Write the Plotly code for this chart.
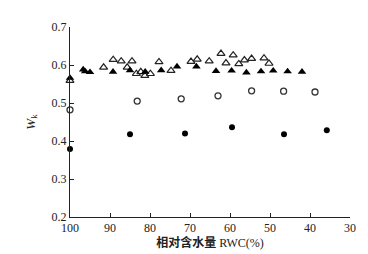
import plotly.graph_objects as go

# Open triangles
open_tri_x = [100, 91.6, 89.2, 87.2, 85.7, 84.5, 83.4, 82.3, 81.3, 79.9, 77.75, 74.75,
              69.75, 68.2, 65.2, 62.25, 61.0, 59.2, 57.8, 56.4, 54.6, 51.5, 50.25]
open_tri_y = [0.559, 0.594, 0.614, 0.610, 0.594, 0.610, 0.577, 0.582, 0.572, 0.577, 0.608, 0.585,
              0.609, 0.615, 0.610, 0.630, 0.605, 0.626, 0.603, 0.613, 0.617, 0.618, 0.604]
# Filled triangles
fill_tri_x = [100, 96.7, 96.2, 95.0, 89.25, 85.0, 81.2, 77.2, 73.25, 68.4, 63.5, 59.6,
              55.9, 52.25, 49.2, 45.6, 42.0]
fill_tri_y = [0.566, 0.588, 0.583, 0.581, 0.582, 0.586, 0.582, 0.586, 0.596, 0.596, 0.584, 0.585,
              0.580, 0.583, 0.585, 0.583, 0.582]
# Open circles
open_cir_x = [100, 83.2, 72.2, 63.0, 54.6, 46.6, 38.75]
open_cir_y = [0.482, 0.505, 0.511, 0.519, 0.532, 0.531, 0.529]
# Filled circles
fill_cir_x = [100, 85.0, 71.25, 59.5, 46.5, 35.8]
fill_cir_y = [0.379, 0.418, 0.420, 0.436, 0.418, 0.428]

y_ticks = [0.2, 0.3, 0.4, 0.5, 0.6, 0.7]
y_tick_text = ["0.2", "0.3", "0.4", "0.5", "0.6", "0.7"]
x_ticks = [100, 90, 80, 70, 60, 50, 40, 30]
x_tick_text = ["100", "90", "80", "70", "60", "50", "40", "30"]

SERIF = "Liberation Serif"

fig = go.Figure()
fig.add_trace(go.Scatter(x=open_tri_x, y=open_tri_y, mode="markers",
                         marker=dict(symbol="triangle-up-open", size=7, color="#222",
                                     line=dict(width=1.2, color="#222")),
                         cliponaxis=False, showlegend=False))
fig.add_trace(go.Scatter(x=fill_tri_x, y=fill_tri_y, mode="markers",
                         marker=dict(symbol="triangle-up", size=7.5, color="#000",
                                     line=dict(width=0)),
                         cliponaxis=False, showlegend=False))
fig.add_trace(go.Scatter(x=open_cir_x, y=open_cir_y, mode="markers",
                         marker=dict(symbol="circle-open", size=6, color="#333",
                                     line=dict(width=1.3, color="#333")),
                         cliponaxis=False, showlegend=False))
fig.add_trace(go.Scatter(x=fill_cir_x, y=fill_cir_y, mode="markers",
                         marker=dict(symbol="circle", size=6, color="#000",
                                     line=dict(width=0)),
                         cliponaxis=False, showlegend=False))

fig.update_layout(
    width=368, height=254,
    margin=dict(l=62, r=26, t=16, b=45),
    paper_bgcolor="white", plot_bgcolor="white",
    font=dict(family=SERIF, size=12, color="#222"),
    xaxis=dict(range=[100, 30], tickvals=x_ticks, ticktext=x_tick_text,
               tickfont=dict(family=SERIF, size=12),
               showgrid=False, zeroline=False, showline=True, linecolor="#222", linewidth=1,
               ticks="inside", ticklen=4, tickcolor="#222",
               title=dict(text="<b>相对含水量</b> RWC(%)", standoff=4,
                          font=dict(family=SERIF + ", Noto Sans CJK SC", size=12))),
    yaxis=dict(range=[0.2, 0.7], tickvals=y_ticks, ticktext=y_tick_text,
               tickfont=dict(family=SERIF, size=12),
               showgrid=False, zeroline=False, showline=True, linecolor="#222", linewidth=1,
               ticks="inside", ticklen=4, tickcolor="#222",
               title=dict(text="<i>W</i><sub>k</sub>", standoff=13,
                          font=dict(family=SERIF, size=13))),
)
fig.write_html("out.html")
